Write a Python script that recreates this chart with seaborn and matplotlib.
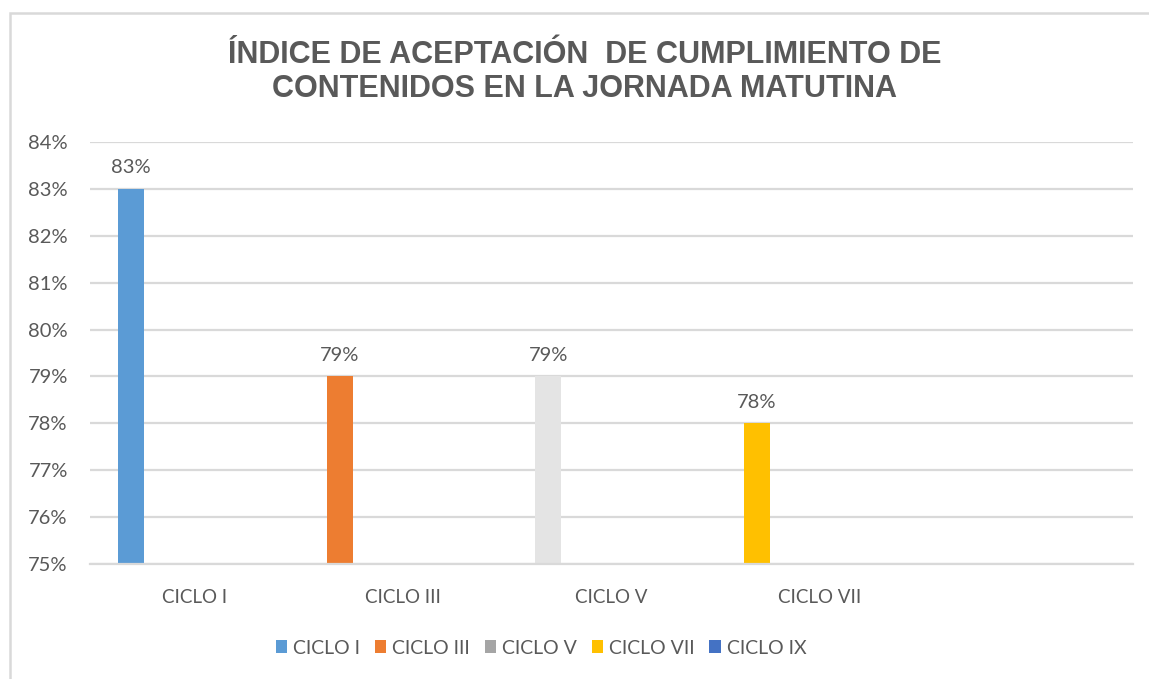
import numpy as np
import pandas as pd
import matplotlib
matplotlib.use("Agg")
import matplotlib.pyplot as plt
from matplotlib.patches import Patch, Rectangle
from matplotlib.ticker import PercentFormatter
import seaborn as sns

# data
categories = ["CICLO I", "CICLO III", "CICLO V", "CICLO VII", "CICLO IX"]
tick_labels = ["CICLO I", "CICLO III", "CICLO V", "CICLO VII", ""]
values = [0.83, 0.79, 0.79, 0.78, np.nan]
bar_colors = ["#5B9BD5", "#ED7D31", "#E4E4E4", "#FFC000", "#4472C4"]
legend_colors = ["#5B9BD5", "#ED7D31", "#A5A5A5", "#FFC000", "#4472C4"]
title = "ÍNDICE DE ACEPTACIÓN  DE CUMPLIMIENTO DE\nCONTENIDOS EN LA JORNADA MATUTINA"

TXT = "#595959"
GRID = "#D9D9D9"

sns.set_theme(style="white")
plt.rcParams["font.family"] = ["Lato", "DejaVu Sans"]

df = pd.DataFrame({"ciclo": categories, "valor": values})

fig = plt.figure(figsize=(11.49, 6.79), dpi=100)
ax = fig.add_axes([90 / 1149, 1 - 564 / 679, (1133 - 90) / 1149, (564 - 142) / 679])

sns.barplot(data=df, x="ciclo", y="valor", hue="ciclo", order=categories,
            hue_order=categories, palette=dict(zip(categories, bar_colors)),
            dodge=False, width=0.125, legend=False, saturation=1, ax=ax)

# Excel puts the bar on the left side of each group
shift = -0.3035
for p in ax.patches:
    p.set_x(p.get_x() + shift)
    p.set_linewidth(0)

for c in ax.containers:
    ax.bar_label(c, fmt="{:.0%}", padding=9, fontsize=14.5, color=TXT)

ax.set_xlim(-0.5, len(categories) - 0.5)
ax.set_ylim(0.75, 0.84)
ax.set_yticks(np.arange(0.75, 0.8401, 0.01))
ax.yaxis.set_major_formatter(PercentFormatter(1.0, decimals=0))
ax.set_xticks(range(len(categories)))
ax.set_xticklabels(tick_labels)
ax.set_xlabel("")
ax.set_ylabel("")
ax.grid(axis="y", color=GRID, linewidth=1.6)
ax.set_axisbelow(True)
for s in ["left", "right", "top"]:
    ax.spines[s].set_visible(False)
ax.spines["bottom"].set_color(GRID)
ax.spines["bottom"].set_linewidth(1.6)
ax.tick_params(axis="y", length=0, pad=16, labelsize=14.5, labelcolor=TXT)
ax.tick_params(axis="x", length=0, pad=18, labelsize=13.5, labelcolor=TXT)

fig.text(585 / 1149, 1 - 72 / 679, title, ha="center", va="center",
         fontsize=22, fontweight="bold", color=TXT, linespacing=1.15,
         family=["Liberation Sans", "DejaVu Sans"])

handles = [Patch(facecolor=col, edgecolor="none", label=lab)
           for col, lab in zip(legend_colors, categories)]
fig.legend(handles=handles, loc="center", bbox_to_anchor=(541 / 1149, 1 - 648 / 679),
           ncol=5, frameon=False, fontsize=14, labelcolor=TXT,
           handlelength=0.6, handleheight=0.6, handletextpad=0.3, columnspacing=0.75)

# chart area border
fig.patches.append(Rectangle((10 / 1149, -0.05), 1.2, 1.05 - 13 / 679,
                             transform=fig.transFigure, fill=False,
                             edgecolor=GRID, linewidth=1.8))

fig.savefig("out.png", dpi=100, facecolor="white")
